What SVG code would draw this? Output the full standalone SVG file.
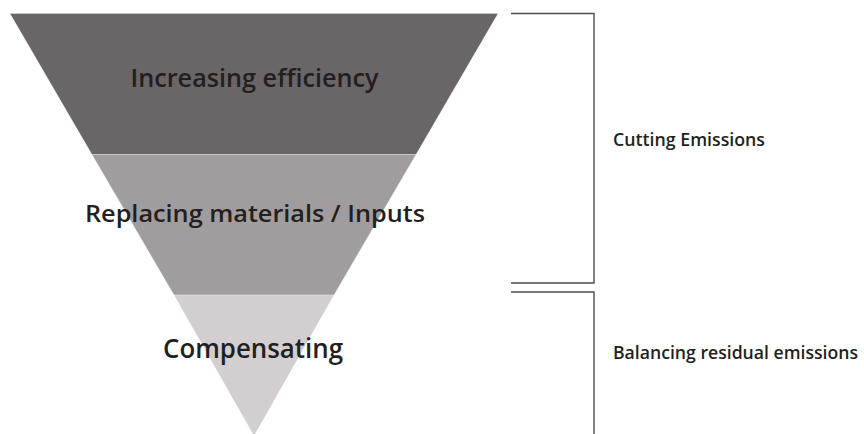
<svg xmlns="http://www.w3.org/2000/svg" width="864" height="434" viewBox="0 0 864 434">
<style>
.band{stroke:#ffffff;stroke-opacity:0.25;stroke-width:1}
.lbl{font-family:"Open Sans",Lato,"Liberation Sans",sans-serif;font-weight:600;fill:#231f20}
.main{text-anchor:middle}
.side{font-size:18px}
.br{fill:none;stroke:#4d4b4c;stroke-width:1.4}
</style>
<rect width="864" height="434" fill="#ffffff"/>
<g id="band-efficiency">
<polygon class="band" points="10,13.5 498,13.5 416,154.5 92,154.5" fill="#6a6567"/>
<text class="lbl main" x="254.5" y="87.3" font-size="25" textLength="248" lengthAdjust="spacingAndGlyphs">Increasing efficiency</text>
</g>
<g id="band-replacing">
<polygon class="band" points="92,154.5 416,154.5 334,295 174,295" fill="#a19d9e"/>
<text class="lbl main" x="255" y="222" font-size="23.5" textLength="340" lengthAdjust="spacingAndGlyphs">Replacing materials / Inputs</text>
</g>
<g id="band-compensating">
<polygon class="band" points="174,295 334,295 254,436" fill="#d3cfd0"/>
<text class="lbl main" x="253" y="358.3" font-size="27" textLength="180" lengthAdjust="spacingAndGlyphs">Compensating</text>
</g>
<g id="connectors">
<polyline class="br" points="511,13.5 594,13.5 594,283 511,283"/>
<polyline class="br" points="511,292 594,292 594,434"/>
</g>
<g id="label-cutting">
<text class="lbl side" x="613" y="145.7" textLength="152" lengthAdjust="spacingAndGlyphs">Cutting Emissions</text>
</g>
<g id="label-balancing">
<text class="lbl side" x="613" y="359" textLength="245" lengthAdjust="spacingAndGlyphs">Balancing residual emissions</text>
</g>
</svg>
